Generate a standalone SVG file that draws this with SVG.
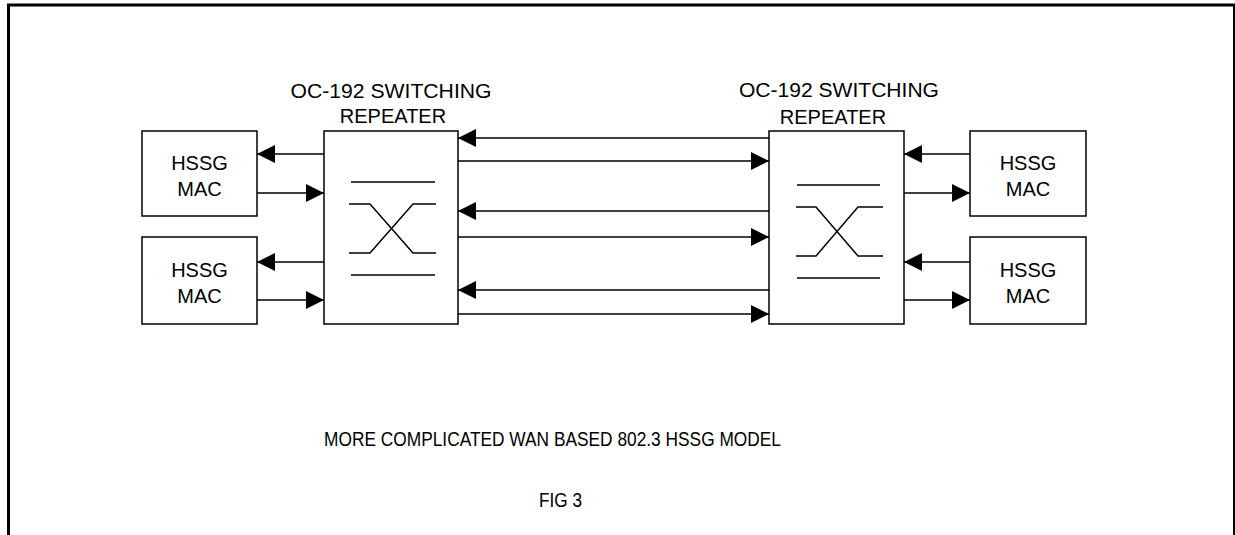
<svg xmlns="http://www.w3.org/2000/svg" width="1235" height="535" viewBox="0 0 1235 535">
<style>
.box{fill:#fff;stroke:#000;stroke-width:1.5}
.ln{fill:none;stroke:#000;stroke-width:1.5}
.t{font-family:"Liberation Sans",Arial,sans-serif;font-size:20px;fill:#000;text-anchor:middle}
</style>
<defs>
<marker id="ah" markerUnits="userSpaceOnUse" markerWidth="18" markerHeight="18" viewBox="0 0 16 16" refX="16" refY="8" orient="auto">
<path d="M0,0 L16,8 L0,16 Z" fill="#000"/>
</marker>
</defs>
<rect x="8.5" y="5" width="1226" height="600" fill="none" stroke="#000" stroke-width="3"/>
<g id="connectors">
<line class="ln" x1="324" y1="154" x2="257" y2="154" marker-end="url(#ah)"/>
<line class="ln" x1="257" y1="193" x2="324" y2="193" marker-end="url(#ah)"/>
<line class="ln" x1="324" y1="262" x2="257" y2="262" marker-end="url(#ah)"/>
<line class="ln" x1="257" y1="300" x2="324" y2="300" marker-end="url(#ah)"/>
<line class="ln" x1="769" y1="138" x2="458" y2="138" marker-end="url(#ah)"/>
<line class="ln" x1="458" y1="161" x2="769" y2="161" marker-end="url(#ah)"/>
<line class="ln" x1="769" y1="211" x2="458" y2="211" marker-end="url(#ah)"/>
<line class="ln" x1="458" y1="237" x2="769" y2="237" marker-end="url(#ah)"/>
<line class="ln" x1="769" y1="290" x2="458" y2="290" marker-end="url(#ah)"/>
<line class="ln" x1="458" y1="314" x2="769" y2="314" marker-end="url(#ah)"/>
<line class="ln" x1="970" y1="154" x2="904" y2="154" marker-end="url(#ah)"/>
<line class="ln" x1="904" y1="193" x2="970" y2="193" marker-end="url(#ah)"/>
<line class="ln" x1="970" y1="262" x2="904" y2="262" marker-end="url(#ah)"/>
<line class="ln" x1="904" y1="300" x2="970" y2="300" marker-end="url(#ah)"/>
</g>
<g id="mac-left-1">
<rect class="box" x="142" y="131" width="115" height="85"/>
<text class="t" x="199.5" y="170">HSSG</text>
<text class="t" x="199.5" y="196">MAC</text>
</g>
<g id="mac-left-2">
<rect class="box" x="142" y="237" width="115" height="87"/>
<text class="t" x="199.5" y="277">HSSG</text>
<text class="t" x="199.5" y="303">MAC</text>
</g>
<g id="repeater-left">
<rect class="box" x="324" y="131" width="134" height="193" fill="none" style="fill:none"/>
<text class="t" x="391" y="98" textLength="201" lengthAdjust="spacingAndGlyphs">OC-192 SWITCHING</text>
<text class="t" x="393" y="123">REPEATER</text>
<line class="ln" x1="351" y1="182" x2="435" y2="182"/>
<path class="ln" d="M349,204 H370 L413,253 H436"/>
<path class="ln" d="M349,253 H370 L413,204 H436"/>
<line class="ln" x1="351" y1="275" x2="435" y2="275"/>
</g>
<g id="repeater-right">
<rect class="box" x="769" y="131" width="135" height="193" style="fill:none"/>
<text class="t" x="839" y="97" textLength="200" lengthAdjust="spacingAndGlyphs">OC-192 SWITCHING</text>
<text class="t" x="833" y="124">REPEATER</text>
<line class="ln" x1="797" y1="185" x2="880" y2="185"/>
<path class="ln" d="M796,207 H816 L858,256 H883"/>
<path class="ln" d="M796,256 H816 L858,207 H883"/>
<line class="ln" x1="797" y1="278" x2="880" y2="278"/>
</g>
<g id="mac-right-1">
<rect class="box" x="970" y="131" width="116" height="85"/>
<text class="t" x="1028" y="170">HSSG</text>
<text class="t" x="1028" y="196">MAC</text>
</g>
<g id="mac-right-2">
<rect class="box" x="970" y="237" width="116" height="87"/>
<text class="t" x="1028" y="277">HSSG</text>
<text class="t" x="1028" y="303">MAC</text>
</g>
<g id="caption">
<text class="t" x="552.5" y="446" textLength="457" lengthAdjust="spacingAndGlyphs">MORE COMPLICATED WAN BASED 802.3 HSSG MODEL</text>
<text class="t" x="560.5" y="507" textLength="43" lengthAdjust="spacingAndGlyphs">FIG 3</text>
</g>
</svg>
